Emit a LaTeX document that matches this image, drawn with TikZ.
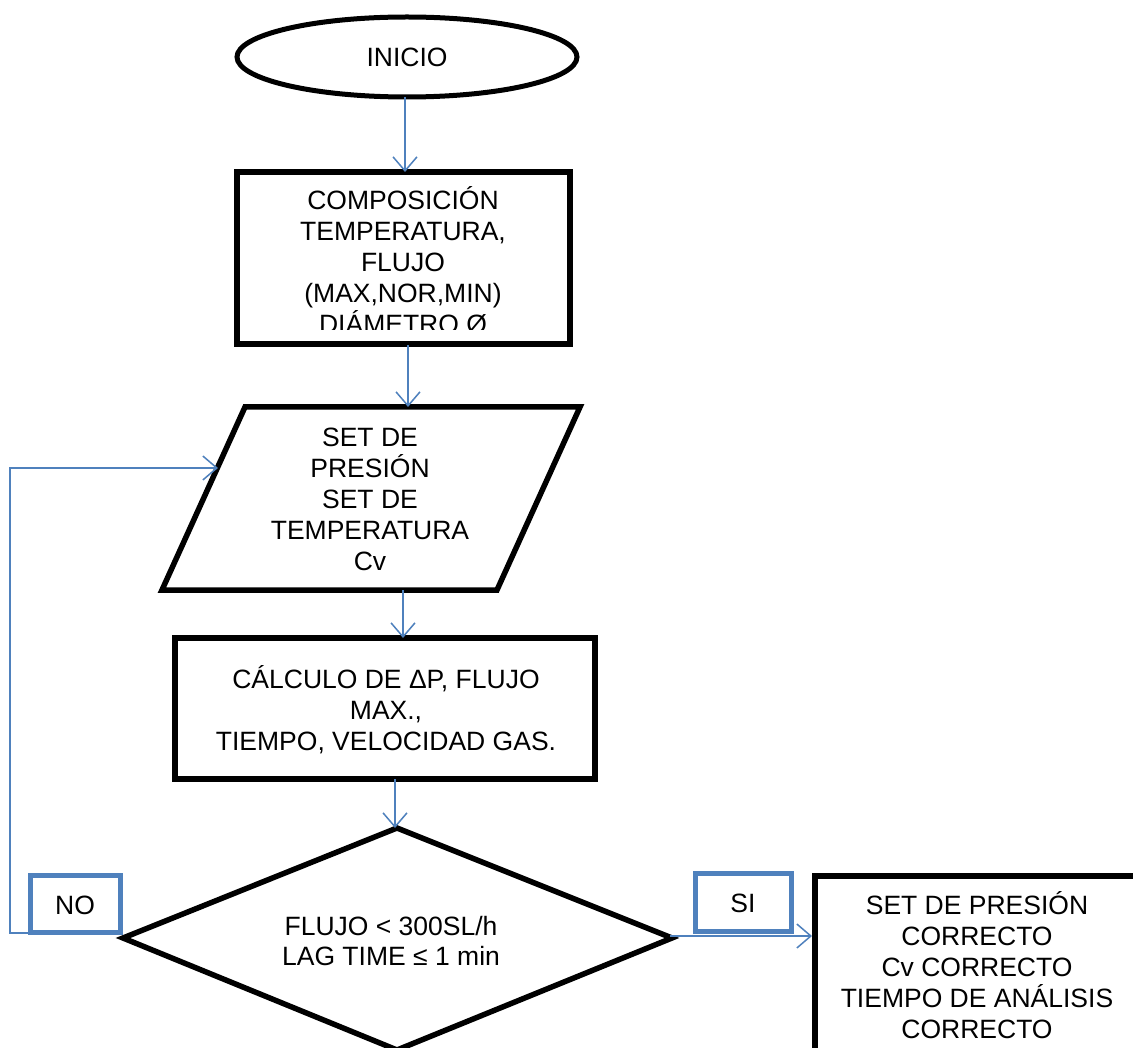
\documentclass[tikz,border=0pt]{standalone}
\usepackage{fontspec}
\setmainfont{Liberation Sans}
\usetikzlibrary{arrows.meta,shapes.geometric}
\definecolor{linkblue}{RGB}{79,129,189}
\begin{document}
\begin{tikzpicture}[x=1pt,y=-1pt,
  outline/.style={draw=black,line width=5.5pt},
  label/.style={align=center,inner sep=0pt,font=\fontsize{26.5}{31}\selectfont},
  tagbox/.style={draw=linkblue,line width=5pt,fill=white,inner sep=0pt},
  flow/.style={draw=linkblue,line width=1.5pt,-{Straight Barb[length=14pt,width=24pt,line width=1.5pt]}},
  link/.style={draw=linkblue,line width=1.5pt}]
\useasboundingbox[fill=white] (0,0) rectangle (1133,1048);

% start terminal
\node[ellipse,draw=black,line width=5pt,minimum width=340pt,minimum height=80pt,inner sep=0pt]
  (inicio) at (407,57) {};
\node[label] (tinicio) at (407,57) {INICIO};

% data box (text runs past the lower edge and is cut off)
\node[outline,rectangle,minimum width=333pt,minimum height=172pt,inner sep=0pt]
  (datos) at (403.5,258) {};
\begin{scope}
  \clip (240,175) rectangle (567,329.5);
  \node[label] (tdatos) at (403,260) {COMPOSICIÓN\\TEMPERATURA,\\FLUJO\\(MAX,NOR,MIN)\\DIÁMETRO Ø};
\end{scope}

% input parallelogram
\coordinate (pTL) at (245,407);
\coordinate (pTR) at (580,407);
\coordinate (pBR) at (497,590);
\coordinate (pBL) at (162,590);
\draw[outline,line join=miter] (pTL) -- (pTR) -- (pBR) -- (pBL) -- cycle;
\node[label] (tset) at (370,499) {SET DE\\PRESIÓN\\SET DE\\TEMPERATURA\\Cv};

% calculation box
\node[outline,rectangle,minimum width=420pt,minimum height=141pt,inner sep=0pt]
  (calc) at (385,708.5) {};
\node[label] (tcalc) at (386,710) {CÁLCULO DE ΔP, FLUJO\\MAX.,\\TIEMPO, VELOCIDAD GAS.};

% decision
\coordinate (dT) at (397,828);
\coordinate (dR) at (672,938);
\coordinate (dB) at (397,1050);
\coordinate (dL) at (123,938);
\draw[outline,line join=miter] (dT) -- (dR) -- (dB) -- (dL) -- cycle;
\node[label,font=\fontsize{26.5}{30}\selectfont] (tdec) at (391,941) {FLUJO < 300SL/h\\LAG TIME ≤ 1 min};

% result box
\node[outline,rectangle,minimum width=330pt,minimum height=190pt,inner sep=0pt,anchor=north west]
  (result) at (812,873) {};
\node[label] (tresult) at (977,965) {SET DE PRESIÓN\\CORRECTO\\Cv CORRECTO\\TIEMPO DE ANÁLISIS\\CORRECTO};

% connectors
\coordinate (a1s) at (405,97);   \coordinate (a1e) at (405,172);
\coordinate (a2s) at (408,345);  \coordinate (a2e) at (408,407);
\coordinate (a3s) at (403,590);  \coordinate (a3e) at (403,638);
\coordinate (a4s) at (395,779);  \coordinate (a4e) at (395,828);
\coordinate (a5s) at (670,936);  \coordinate (a5e) at (812,936);
\draw[flow] (a1s) -- (a1e);
\draw[flow] (a2s) -- (a2e);
\draw[flow] (a3s) -- (a3e);
\draw[flow] (a4s) -- (a4e);
\draw[flow] (a5s) -- (a5e);

% loop back on NO
\coordinate (loopA) at (120,933);
\coordinate (loopB) at (10,933);
\coordinate (loopC) at (10,468);
\coordinate (loopD) at (218,468);
\draw[flow] (loopA) -- (loopB) -- (loopC) -- (loopD);

% branch labels
\node[tagbox,minimum width=90pt,minimum height=57pt] (no) at (75,903.5) {};
\node[label] (tno) at (75,905) {NO};
\node[tagbox,minimum width=96pt,minimum height=58pt] (si) at (743,902) {};
\node[label] (tsi) at (743,903) {SI};
\end{tikzpicture}
\end{document}
